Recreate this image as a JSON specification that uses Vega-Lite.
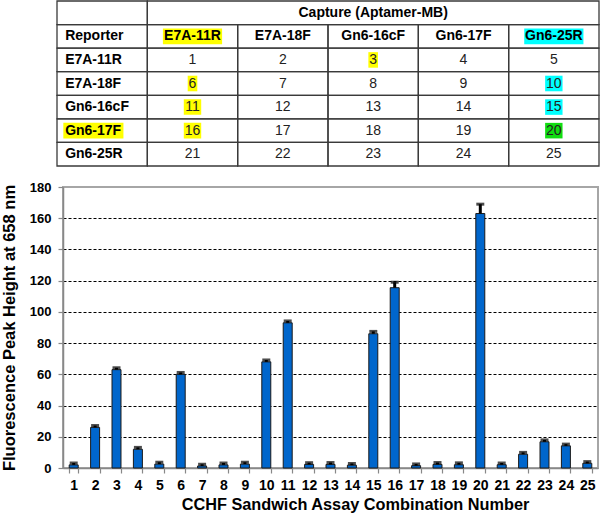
{
  "$schema": "https://vega.github.io/schema/vega-lite/v6.json",
  "padding": {"left": 0, "top": 0, "right": 2, "bottom": 0},
  "background": "white",
  "spacing": 13,
  "config": {"font": "Liberation Sans", "view": {"stroke": null}},
  "vconcat": [
    {
      "width": 536,
      "height": 165,
      "data": {"values": [
        {"r": 0, "c": 0, "span": 1, "label": "", "kind": "head"},
        {"r": 0, "c": 1, "span": 5, "label": "Capture (Aptamer-MB)", "kind": "head"},
        {"r": 1, "c": 0, "span": 1, "label": "Reporter", "kind": "head"},
        {"r": 1, "c": 1, "span": 1, "label": "E7A-11R", "kind": "head", "hl": "yellow"},
        {"r": 1, "c": 2, "span": 1, "label": "E7A-18F", "kind": "head"},
        {"r": 1, "c": 3, "span": 1, "label": "Gn6-16cF", "kind": "head"},
        {"r": 1, "c": 4, "span": 1, "label": "Gn6-17F", "kind": "head"},
        {"r": 1, "c": 5, "span": 1, "label": "Gn6-25R", "kind": "head", "hl": "cyan"},
        {"r": 2, "c": 0, "span": 1, "label": "E7A-11R", "kind": "head"},
        {"r": 2, "c": 1, "span": 1, "label": "1", "kind": "num"},
        {"r": 2, "c": 2, "span": 1, "label": "2", "kind": "num"},
        {"r": 2, "c": 3, "span": 1, "label": "3", "kind": "num", "hl": "yellow"},
        {"r": 2, "c": 4, "span": 1, "label": "4", "kind": "num"},
        {"r": 2, "c": 5, "span": 1, "label": "5", "kind": "num"},
        {"r": 3, "c": 0, "span": 1, "label": "E7A-18F", "kind": "head"},
        {"r": 3, "c": 1, "span": 1, "label": "6", "kind": "num", "hl": "yellow"},
        {"r": 3, "c": 2, "span": 1, "label": "7", "kind": "num"},
        {"r": 3, "c": 3, "span": 1, "label": "8", "kind": "num"},
        {"r": 3, "c": 4, "span": 1, "label": "9", "kind": "num"},
        {"r": 3, "c": 5, "span": 1, "label": "10", "kind": "num", "hl": "cyan"},
        {"r": 4, "c": 0, "span": 1, "label": "Gn6-16cF", "kind": "head"},
        {"r": 4, "c": 1, "span": 1, "label": "11", "kind": "num", "hl": "yellow"},
        {"r": 4, "c": 2, "span": 1, "label": "12", "kind": "num"},
        {"r": 4, "c": 3, "span": 1, "label": "13", "kind": "num"},
        {"r": 4, "c": 4, "span": 1, "label": "14", "kind": "num"},
        {"r": 4, "c": 5, "span": 1, "label": "15", "kind": "num", "hl": "cyan"},
        {"r": 5, "c": 0, "span": 1, "label": "Gn6-17F", "kind": "head", "hl": "yellow"},
        {"r": 5, "c": 1, "span": 1, "label": "16", "kind": "num", "hl": "yellow"},
        {"r": 5, "c": 2, "span": 1, "label": "17", "kind": "num"},
        {"r": 5, "c": 3, "span": 1, "label": "18", "kind": "num"},
        {"r": 5, "c": 4, "span": 1, "label": "19", "kind": "num"},
        {"r": 5, "c": 5, "span": 1, "label": "20", "kind": "num", "hl": "green"},
        {"r": 6, "c": 0, "span": 1, "label": "Gn6-25R", "kind": "head"},
        {"r": 6, "c": 1, "span": 1, "label": "21", "kind": "num"},
        {"r": 6, "c": 2, "span": 1, "label": "22", "kind": "num"},
        {"r": 6, "c": 3, "span": 1, "label": "23", "kind": "num"},
        {"r": 6, "c": 4, "span": 1, "label": "24", "kind": "num"},
        {"r": 6, "c": 5, "span": 1, "label": "25", "kind": "num"}
      ]},
      "transform": [
        {"calculate": "datum.c + datum.span", "as": "c2"},
        {"calculate": "datum.r + 1", "as": "r2"},
        {"calculate": "datum.c == 0 ? 0.09 : datum.c + datum.span / 2", "as": "tx"},
        {"calculate": "datum.r + 0.5", "as": "ty"},
        {"calculate": "(datum.kind == 'num' ? 7.8 : 8.2) * length(datum.label) / 90.33", "as": "w"},
        {"calculate": "datum.c == 0 ? datum.tx - 0.02 : datum.tx - datum.w / 2 - 0.01", "as": "hx"},
        {"calculate": "datum.c == 0 ? datum.tx + datum.w + 0.01 : datum.tx + datum.w / 2 + 0.01", "as": "hx2"},
        {"calculate": "datum.r + 0.17", "as": "hy"},
        {"calculate": "datum.r + 0.83", "as": "hy2"}
      ],
      "layer": [
        {
          "transform": [{"filter": "datum.hl"}],
          "mark": {"type": "rect"},
          "encoding": {
            "x": {"field": "hx", "type": "quantitative", "scale": {"domain": [0, 6], "range": [-6, 536]}, "axis": null},
            "x2": {"field": "hx2"},
            "y": {"field": "hy", "type": "quantitative", "scale": {"domain": [0, 7], "range": [0, 165]}, "axis": null},
            "y2": {"field": "hy2"},
            "color": {"field": "hl", "type": "nominal", "scale": {"domain": ["yellow", "cyan", "green"], "range": ["#ffff00", "#00ffff", "#11dd11"]}, "legend": null}
          }
        },
        {
          "mark": {"type": "rect", "filled": false, "stroke": "#3a3a3a", "strokeWidth": 1.3},
          "encoding": {
            "x": {"field": "c", "type": "quantitative"},
            "x2": {"field": "c2"},
            "y": {"field": "r", "type": "quantitative"},
            "y2": {"field": "r2"}
          }
        },
        {
          "transform": [{"filter": "datum.c == 0 && datum.label != ''"}],
          "mark": {"type": "text", "align": "left", "baseline": "middle", "fontSize": 14, "fontWeight": "bold", "color": "#000"},
          "encoding": {
            "x": {"field": "tx", "type": "quantitative"},
            "y": {"field": "ty", "type": "quantitative"},
            "text": {"field": "label"}
          }
        },
        {
          "transform": [{"filter": "datum.c > 0 && datum.kind == 'head'"}],
          "mark": {"type": "text", "align": "center", "baseline": "middle", "fontSize": 14, "fontWeight": "bold", "color": "#000"},
          "encoding": {
            "x": {"field": "tx", "type": "quantitative"},
            "y": {"field": "ty", "type": "quantitative"},
            "text": {"field": "label"}
          }
        },
        {
          "transform": [{"filter": "datum.kind == 'num'"}],
          "mark": {"type": "text", "align": "center", "baseline": "middle", "fontSize": 14, "fontWeight": "normal", "color": "#222"},
          "encoding": {
            "x": {"field": "tx", "type": "quantitative"},
            "y": {"field": "ty", "type": "quantitative"},
            "text": {"field": "label"}
          }
        }
      ]
    },
    {
      "width": 535,
      "height": 281,
      "view": {"stroke": "#a6a6a6", "strokeWidth": 2},
      "data": {"values": [
        {"combo": 1, "value": 2, "err": 1.2},
        {"combo": 2, "value": 26, "err": 1.2},
        {"combo": 3, "value": 63, "err": 1.2},
        {"combo": 4, "value": 12, "err": 1.2},
        {"combo": 5, "value": 2.5, "err": 1.2},
        {"combo": 6, "value": 60, "err": 1.2},
        {"combo": 7, "value": 1.3, "err": 1.1},
        {"combo": 8, "value": 2, "err": 1.2},
        {"combo": 9, "value": 2.5, "err": 1.2},
        {"combo": 10, "value": 68, "err": 1.2},
        {"combo": 11, "value": 93, "err": 1.2},
        {"combo": 12, "value": 2.3, "err": 1.1},
        {"combo": 13, "value": 2.3, "err": 1.2},
        {"combo": 14, "value": 1.8, "err": 1.1},
        {"combo": 15, "value": 86, "err": 1.5},
        {"combo": 16, "value": 115.5, "err": 3.5},
        {"combo": 17, "value": 1.5, "err": 1.1},
        {"combo": 18, "value": 2.3, "err": 1.2},
        {"combo": 19, "value": 2.1, "err": 1.2},
        {"combo": 20, "value": 163, "err": 6},
        {"combo": 21, "value": 2.1, "err": 1.1},
        {"combo": 22, "value": 8.8, "err": 1.2},
        {"combo": 23, "value": 16.8, "err": 1.2},
        {"combo": 24, "value": 14.2, "err": 1.1},
        {"combo": 25, "value": 3, "err": 1.1}
      ]},
      "transform": [{"calculate": "datum.value + datum.err", "as": "hi"}],
      "encoding": {
        "x": {
          "field": "combo", "type": "ordinal",
          "scale": {"paddingInner": 0.58, "paddingOuter": 0.29},
          "axis": {
            "title": "CCHF Sandwich Assay Combination Number",
            "titleFontSize": 16.3, "titleFontWeight": "bold", "titleColor": "#000", "titlePadding": 4,
            "titleX": 292, "titleAlign": "center",
            "labelFontSize": 14, "labelFontWeight": "bold", "labelColor": "#000", "labelAngle": 0, "labelPadding": 5,
            "tickBand": "extent", "tickSize": 5, "tickColor": "#888", "tickWidth": 1.2,
            "domainColor": "#888", "domainWidth": 1.5, "grid": false
          }
        }
      },
      "layer": [
        {
          "mark": {"type": "bar", "color": "#0066cc", "stroke": "#1a1a1a", "strokeWidth": 1},
          "encoding": {
            "y": {
              "field": "value", "type": "quantitative",
              "title": "Fluorescence Peak Height at 658 nm",
              "scale": {"domain": [0, 180], "nice": false},
              "axis": {
                "values": [0, 20, 40, 60, 80, 100, 120, 140, 160, 180],
                "tickCount": 20,
                "labelOverlap": false,
                "titleFontSize": 16.5, "titleFontWeight": "bold", "titleColor": "#000", "titlePadding": 12,
                "labelFontSize": 13, "labelFontWeight": "bold", "labelColor": "#000", "labelPadding": 7,
                "tickSize": 5, "tickColor": "#888", "tickWidth": 1.2,
                "domainColor": "#888", "domainWidth": 1.5,
                "grid": true, "gridColor": "#000", "gridDash": [3, 2], "gridWidth": 1.2,
                "gridOpacity": {"condition": {"test": "datum.value == 0 || datum.value == 180", "value": 0}, "value": 1}
              }
            }
          }
        },
        {
          "mark": {"type": "rule", "color": "#000", "strokeWidth": 3},
          "encoding": {
            "y": {"field": "value", "type": "quantitative", "title": "Fluorescence Peak Height at 658 nm"},
            "y2": {"field": "hi"}
          }
        },
        {
          "mark": {"type": "tick", "color": "#000", "thickness": 3, "size": 8},
          "encoding": {
            "y": {"field": "hi", "type": "quantitative", "title": "Fluorescence Peak Height at 658 nm"}
          }
        }
      ]
    }
  ]
}
